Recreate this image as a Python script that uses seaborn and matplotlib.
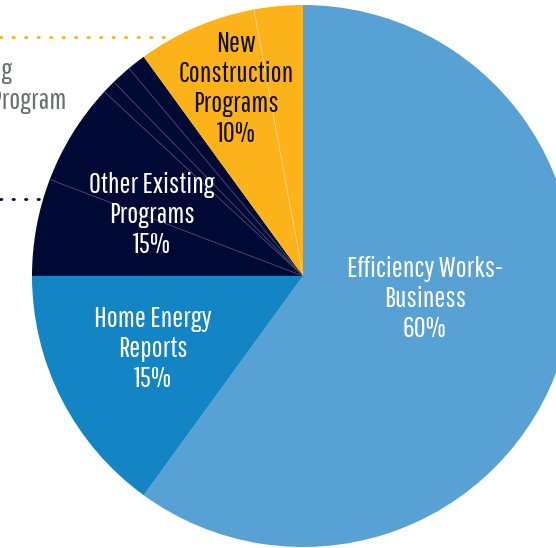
import numpy as np
import seaborn as sns
import matplotlib.pyplot as plt

# pie shares, clockwise from 12 o'clock
business = [60.0]
home_reports = [15.0]
other_existing = [5.8, 6.1, 0.8, 1.2, 1.1]
new_construction = [7.1, 2.9]

labels = ['Efficiency Works-\nBusiness\n60%', 'Home Energy\nReports\n15%',
          'Other Existing\nPrograms\n15%', 'New\nConstruction\nPrograms\n10%']
left_label = 'Commercial Building\nIntegrated Design Program'

sns.set_theme(style='white')
plt.rcParams['font.family'] = ['Pathway Gothic One', 'Barlow Condensed', 'DejaVu Sans']

colors = ['#58A1D4', '#1384C4', '#000934', '#FCB219']
values = business + home_reports + other_existing + new_construction
groups = [business, home_reports, other_existing, new_construction]
wedge_colors = []
for g, c in zip(groups, colors):
    wedge_colors += [c] * len(g)

fig = plt.figure(figsize=(5.56, 5.48), dpi=100)
ax = fig.add_axes([0, 0, 1, 1])
ax.pie(values, colors=wedge_colors, startangle=90, counterclock=False,
       wedgeprops=dict(linewidth=0))

# faint seams between sub-programs inside one group
seam = {2: '#3a4470', 3: '#f7d389'}
start = 0
for i, g in enumerate(groups):
    cum = start + np.cumsum(g)[:-1]
    for c in cum:
        th = np.deg2rad(90 - 360 * c / 100)
        if i in seam:
            ax.plot([0, np.cos(th)], [0, np.sin(th)], color=seam[i], lw=0.6)
    start += sum(g)

cx, cy, R = 303, 276, 271
def px(x, y):
    return (x - cx) / R, (cy - y) / R

ax.set_xlim((0 - cx) / R, (556 - cx) / R)
ax.set_ylim((cy - 548) / R, (cy - 0) / R)
ax.set_aspect('equal')
ax.axis('off')

fs = 21
ls = 1.18
ax.text(*px(425, 299), labels[0], color='white', fontsize=fs, ha='center', va='center', linespacing=ls)
ax.text(*px(153, 349), labels[1], color='white', fontsize=fs, ha='center', va='center', linespacing=ls)
ax.text(*px(152, 215), labels[2], color='white', fontsize=fs, ha='center', va='center', linespacing=ls)
ax.text(*px(236, 89), labels[3], color='#111111', fontsize=fs, ha='center', va='center', linespacing=ls)

# leader lines to labels outside the crop
ax.plot([px(0, 37)[0], px(172, 37)[0]], [px(0, 37)[1]] * 2, color='#FCB219', lw=2,
        linestyle=(0, (0.5, 4)), dash_capstyle='round')
ax.plot([px(0, 199)[0], px(44, 199)[0]], [px(0, 199)[1]] * 2, color='#000934', lw=2,
        linestyle=(0, (0.5, 4)), dash_capstyle='round')
ax.text(*px(66, 86), left_label, color='#6d6e71', fontsize=fs, ha='right', va='center',
        multialignment='left', linespacing=ls)

fig.savefig('out.png', dpi=100)
